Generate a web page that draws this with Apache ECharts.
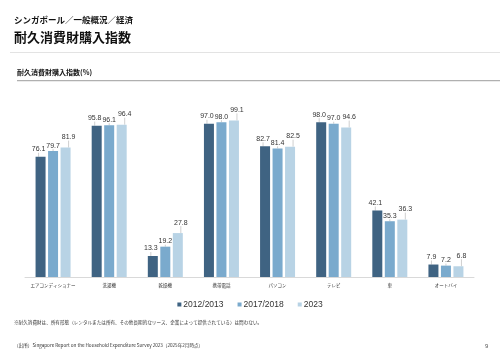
<!DOCTYPE html>
<html>
<head>
<meta charset="utf-8">
<script src="https://cdn.jsdelivr.net/npm/echarts@6/dist/echarts.min.js"></script>
<style>
  html, body { margin: 0; padding: 0; background: #fff; }
  #main { width: 500px; height: 353px; }
</style>
</head>
<body>
<div id="main"></div>
<script>
// 品目
const categories = ['エアコンディショナー', '洗濯機', '乾燥機', '携帯電話', 'パソコン', 'テレビ', '車', 'オートバイ'];
const years = ['2012/2013', '2017/2018', '2023'];
// 各年の値 (%)
const values2012 = [76.1, 95.8, 13.3, 97.0, 82.7, 98.0, 42.1, 7.9];
const values2017 = [79.7, 96.1, 19.2, 98.0, 81.4, 97.0, 35.3, 7.2];
const values2023 = [81.9, 96.4, 27.8, 99.1, 82.5, 94.6, 36.3, 6.8];
const colors = ['#3f6382', '#7aaacd', '#b8d3e5'];

const FONT = '"Noto Sans CJK JP", "Noto Sans", sans-serif';
const NUMFONT = 'Arial, "Liberation Sans", sans-serif';

const chart = echarts.init(document.getElementById('main'), null, { renderer: 'canvas' });

function makeSeries(name, data, color, labelDx, labelDy) {
  return {
    name: name,
    type: 'bar',
    data: data,
    barWidth: 10,
    barGap: '25%',
    itemStyle: { color: color },
    label: {
      show: true,
      position: 'top',
      distance: 2,
      fontSize: 7,
      color: '#333',
      fontFamily: NUMFONT,
      formatter: p => p.value.toFixed(1)
    },
    labelLine: { show: true, lineStyle: { color: '#b0b0b0', width: 0.6 } },
    labelLayout: { dx: labelDx, dy: labelDy },
    animation: false
  };
}

chart.setOption({
  animation: false,
  textStyle: { fontFamily: FONT },
  grid: { left: 25, right: 26, top: 119, bottom: 76 },
  xAxis: {
    type: 'category',
    data: categories,
    axisLine: { lineStyle: { color: '#d9d9d9', width: 1 } },
    axisTick: { show: false },
    axisLabel: { interval: 0, fontSize: 4.5, color: '#333', margin: 6, fontFamily: FONT }
  },
  yAxis: {
    type: 'value',
    min: 0,
    max: 100,
    show: false
  },
  legend: {
    data: years,
    top: 295,
    left: 'center',
    itemWidth: 4,
    itemHeight: 4,
    itemGap: 14,
    icon: 'rect',
    textStyle: { fontSize: 8.5, color: '#333', fontFamily: NUMFONT, padding: [0, 0, 0, -3] }
  },
  series: [
    makeSeries(years[0], values2012, colors[0], -2, -2),
    makeSeries(years[1], values2017, colors[1], 0, 0),
    makeSeries(years[2], values2023, colors[2], 3, -5)
  ],
  graphic: [
    { type: 'text', left: 14, top: 16, style: { text: 'シンガポール／一般概況／経済', font: 'bold 8.5px ' + FONT, fill: '#111' } },
    { type: 'text', left: 14, top: 31, style: { text: '耐久消費財購入指数', font: 'bold 13px ' + FONT, fill: '#111' } },
    { type: 'rect', shape: { x: 10, y: 52, width: 490, height: 1 }, style: { fill: '#e3e3e3' } },
    { type: 'text', left: 17, top: 69, style: { text: '耐久消費財購入指数(%)', font: 'bold 7px ' + FONT, fill: '#111' } },
    { type: 'rect', shape: { x: 17, y: 80, width: 483, height: 1.2 }, style: { fill: '#b0b0b0' } },
    { type: 'text', left: 14, top: 320, style: { text: '※耐久消費財は、所有形態（レンタルまたは所有、その他長期的なリース、企業によって提供されている）は問わない。', font: '4.6px ' + FONT, fill: '#333' } },
    { type: 'text', left: 14, top: 343, style: { text: '（出所）Singapore Report on the Household Expenditure Survey 2023（2025年2月時点）', font: '4.6px ' + FONT, fill: '#333' } },
    { type: 'text', left: 485, top: 343, style: { text: '9', font: '6px Arial, sans-serif', fill: '#555' } }
  ]
});
</script>
</body>
</html>
